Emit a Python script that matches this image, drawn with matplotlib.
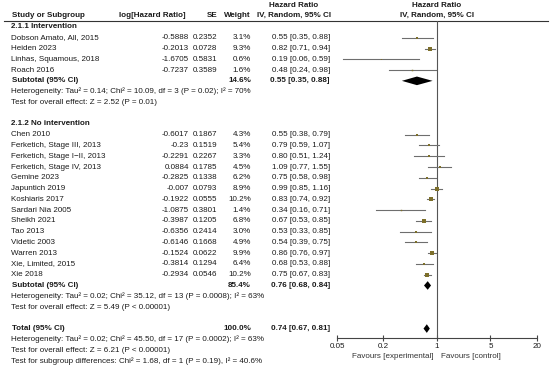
import matplotlib.pyplot as plt
import numpy as np
from matplotlib.lines import Line2D

plt.rcParams['font.family'] = ['Liberation Sans', 'DejaVu Sans']

# group 1: intervention
studies1 = ["Dobson Amato, All, 2015", "Heiden 2023", "Linhas, Squamous, 2018", "Roach 2016"]
loghr1 = ["-0.5888", "-0.2013", "-1.6705", "-0.7237"]
se1 = [0.2352, 0.0728, 0.5831, 0.3589]
w1 = [3.1, 9.3, 0.6, 1.6]
hr1 = [0.55, 0.82, 0.19, 0.48]
lo1 = [0.35, 0.71, 0.06, 0.24]
hi1 = [0.88, 0.94, 0.59, 0.98]
sub1 = [0.55, 0.35, 0.88]
sub1_w = 14.6

# group 2: no intervention
studies2 = ["Chen 2010", "Ferketich, Stage III, 2013", "Ferketich, Stage I\u2212II, 2013",
            "Ferketich, Stage IV, 2013", "Gemine 2023", "Japuntich 2019", "Koshiaris 2017",
            "Sardari Nia 2005", "Sheikh 2021", "Tao 2013", "Videtic 2003", "Warren 2013",
            "Xie, Limited, 2015", "Xie 2018"]
loghr2 = ["-0.6017", "-0.23", "-0.2291", "0.0884", "-0.2825", "-0.007", "-0.1922", "-1.0875",
          "-0.3987", "-0.6356", "-0.6146", "-0.1524", "-0.3814", "-0.2934"]
se2 = [0.1867, 0.1519, 0.2267, 0.1785, 0.1338, 0.0793, 0.0555, 0.3801,
       0.1205, 0.2414, 0.1668, 0.0622, 0.1294, 0.0546]
w2 = [4.3, 5.4, 3.3, 4.5, 6.2, 8.9, 10.2, 1.4, 6.8, 3.0, 4.9, 9.9, 6.4, 10.2]
hr2 = [0.55, 0.79, 0.80, 1.09, 0.75, 0.99, 0.83, 0.34, 0.67, 0.53, 0.54, 0.86, 0.68, 0.75]
lo2 = [0.38, 0.59, 0.51, 0.77, 0.58, 0.85, 0.74, 0.16, 0.53, 0.33, 0.39, 0.76, 0.53, 0.67]
hi2 = [0.79, 1.07, 1.24, 1.55, 0.98, 1.16, 0.92, 0.71, 0.85, 0.85, 0.75, 0.97, 0.88, 0.83]
sub2 = [0.76, 0.68, 0.84]
sub2_w = 85.4

total = [0.74, 0.67, 0.81]
total_w = 100.0

het1 = "Heterogeneity: Tau\u00b2 = 0.14; Chi\u00b2 = 10.09, df = 3 (P = 0.02); I\u00b2 = 70%"
eff1 = "Test for overall effect: Z = 2.52 (P = 0.01)"
het2 = "Heterogeneity: Tau\u00b2 = 0.02; Chi\u00b2 = 35.12, df = 13 (P = 0.0008); I\u00b2 = 63%"
eff2 = "Test for overall effect: Z = 5.49 (P < 0.00001)"
het_t = "Heterogeneity: Tau\u00b2 = 0.02; Chi\u00b2 = 45.50, df = 17 (P = 0.0002); I\u00b2 = 63%"
eff_t = "Test for overall effect: Z = 6.21 (P < 0.00001)"
sub_t = "Test for subgroup differences: Chi\u00b2 = 1.68, df = 1 (P = 0.19), I\u00b2 = 40.6%"

ticks = [0.05, 0.2, 1, 5, 20]
tick_labels = ["0.05", "0.2", "1", "5", "20"]

W, H = 550, 369
fig = plt.figure(figsize=(W / 100, H / 100), dpi=100)

# row layout (pixels)
y0, dy = 27.0, 10.77
def ypx(r):
    return y0 + dy * r

rows1 = list(range(1, 1 + len(studies1)))
rows2 = list(range(10, 10 + len(studies2)))
r_sub1, r_sub2, r_tot = 5, 24, 28

# text layer in pixel coordinates
tx = fig.add_axes([0, 0, 1, 1])
tx.set_xlim(0, W)
tx.set_ylim(H, 0)
tx.axis('off')

fs = 5.8
txt = dict(fontsize=fs, va='center', color='#1a1a1a')
bold = dict(fontsize=fs, va='center', fontweight='bold', color='#1a1a1a')

# headers
tx.text(12, 15.5, "Study or Subgroup", ha='left', **bold)
tx.text(186, 15.5, "log[Hazard Ratio]", ha='right', **bold)
tx.text(217, 15.5, "SE", ha='right', **bold)
tx.text(251, 15.5, "Weight", ha='right', **bold)
tx.text(294, 5.5, "Hazard Ratio", ha='center', **bold)
tx.text(294, 15.5, "IV, Random, 95% CI", ha='center', **bold)
tx.text(437, 5.5, "Hazard Ratio", ha='center', **bold)
tx.text(437, 15.5, "IV, Random, 95% CI", ha='center', **bold)
tx.add_line(Line2D([4, 548], [20.5, 20.5], color='#333333', lw=0.8))

def study_rows(rows, names, lhr, se, w, hr, lo, hi):
    for r, n, a, s, ww, h, l, u in zip(rows, names, lhr, se, w, hr, lo, hi):
        y = ypx(r)
        tx.text(11, y, n, ha='left', **txt)
        tx.text(189, y, a, ha='right', **txt)
        tx.text(217, y, f"{s:.4f}", ha='right', **txt)
        tx.text(251, y, f"{ww:.1f}%", ha='right', **txt)
        tx.text(330, y, f"{h:.2f} [{l:.2f}, {u:.2f}]", ha='right', **txt)

tx.text(11, ypx(0), "2.1.1 Intervention", ha='left', **bold)
study_rows(rows1, studies1, loghr1, se1, w1, hr1, lo1, hi1)
tx.text(12, ypx(r_sub1), "Subtotal (95% CI)", ha='left', **bold)
tx.text(251, ypx(r_sub1), f"{sub1_w:.1f}%", ha='right', **bold)
tx.text(330, ypx(r_sub1), f"{sub1[0]:.2f} [{sub1[1]:.2f}, {sub1[2]:.2f}]", ha='right', **bold)
tx.text(11, ypx(6), het1, ha='left', **txt)
tx.text(11, ypx(7), eff1, ha='left', **txt)

tx.text(11, ypx(9), "2.1.2 No intervention", ha='left', **bold)
study_rows(rows2, studies2, loghr2, se2, w2, hr2, lo2, hi2)
tx.text(12, ypx(r_sub2), "Subtotal (95% CI)", ha='left', **bold)
tx.text(251, ypx(r_sub2), f"{sub2_w:.1f}%", ha='right', **bold)
tx.text(330, ypx(r_sub2), f"{sub2[0]:.2f} [{sub2[1]:.2f}, {sub2[2]:.2f}]", ha='right', **bold)
tx.text(11, ypx(25), het2, ha='left', **txt)
tx.text(11, ypx(26), eff2, ha='left', **txt)

tx.text(12, ypx(r_tot), "Total (95% CI)", ha='left', **bold)
tx.text(251, ypx(r_tot), f"{total_w:.1f}%", ha='right', **bold)
tx.text(330, ypx(r_tot), f"{total[0]:.2f} [{total[1]:.2f}, {total[2]:.2f}]", ha='right', **bold)
tx.text(11, ypx(29), het_t, ha='left', **txt)
tx.text(11, ypx(30), eff_t, ha='left', **txt)
tx.text(11, ypx(31), sub_t, ha='left', **txt)

# forest panel
x_left, x_right = 337.0, 536.7
top_px, bot_px = 20.5, 338.0
ax = fig.add_axes([x_left / W, 1 - bot_px / H, (x_right - x_left) / W, (bot_px - top_px) / H])
ax.set_xscale('log')
ax.set_xlim(0.05, 20)
ax.set_ylim((bot_px - y0) / dy, (top_px - y0) / dy)
ax.patch.set_alpha(0)
for s in ['top', 'left', 'right']:
    ax.spines[s].set_visible(False)
ax.spines['bottom'].set_color('#444444')
ax.spines['bottom'].set_linewidth(0.8)
ax.set_yticks([])
ax.set_xticks(ticks)
ax.set_xticklabels(tick_labels)
ax.minorticks_off()
ax.tick_params(axis='x', direction='inout', length=5, width=0.8, color='#444444',
               labelsize=fs, pad=1, labelcolor='#1a1a1a')
ax.axvline(1, color='#555555', lw=0.8)

def draw_studies(rows, hr, lo, hi, w):
    for r, h, l, u, ww in zip(rows, hr, lo, hi, w):
        ax.plot([l, u], [r, r], color='#6e6e6e', lw=0.8)
        ax.plot(h, r, marker='s', color='#7d6f2a', markersize=np.sqrt(ww) * 0.85, mew=0)

draw_studies(rows1, hr1, lo1, hi1, w1)
draw_studies(rows2, hr2, lo2, hi2, w2)

def diamond(r, est, h=0.4):
    c, l, u = est
    ax.fill([l, c, u, c], [r, r - h, r, r + h], color='black', lw=0)

diamond(r_sub1, sub1)
diamond(r_sub2, sub2)
diamond(r_tot, total)

tx.text(433, 356, "Favours [experimental]", ha='right', fontsize=fs, va='center', color='#333333')
tx.text(441, 356, "Favours [control]", ha='left', fontsize=fs, va='center', color='#333333')

fig.savefig("out.png", dpi=100)
